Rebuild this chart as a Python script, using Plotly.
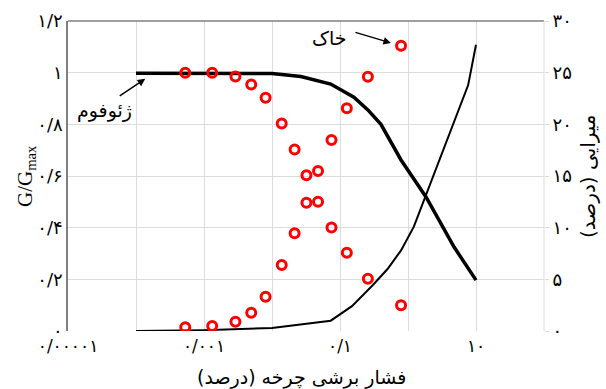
import plotly.graph_objects as go

# geofoam curves (strain in %)
foam_strain = [1e-4, 1e-3, 1e-2, 0.0266, 0.073, 0.16, 0.257, 0.40, 0.79, 1.84, 4.76, 10]
foam_g = [0.998, 0.998, 0.997, 0.985, 0.956, 0.905, 0.856, 0.800, 0.662, 0.519, 0.325, 0.197]

damp_strain = [1e-4, 1e-3, 1e-2, 0.073, 0.15, 0.30, 0.50, 0.79, 1.22, 1.84, 2.87, 5.0, 7.67, 10]
foam_damp = [0.0, 0.08, 0.3, 1.0, 2.4, 4.4, 6.0, 7.8, 10.1, 13.2, 16.5, 20.6, 23.8, 27.7]

# soil points
soil_strain = [5.3e-4, 1.32e-3, 2.9e-3, 4.95e-3, 8.05e-3, 0.0139, 0.0215, 0.0321,
               0.0475, 0.075, 0.126, 0.257, 0.79]
soil_g = [1.0, 1.0, 0.985, 0.954, 0.903, 0.803, 0.703, 0.603, 0.50, 0.401, 0.303, 0.202, 0.10]
soil_damp = [0.36, 0.48, 0.90, 1.77, 3.32, 6.39, 9.45, 12.42, 15.48, 18.48, 21.55, 24.61, 27.61]

x_ticks = [1e-5, 1e-4, 1e-3, 1e-2, 1e-1, 1, 10, 100]
x_text = ["۰/۰۰۰۰۱", "", "۰/۰۰۱", "", "۰/۱", "", "۱۰", ""]
g_ticks = [0, 0.2, 0.4, 0.6, 0.8, 1.0, 1.2]
g_text = ["۰", "۰/۲", "۰/۴", "۰/۶", "۰/۸", "۱", "۱/۲"]
d_ticks = [0, 5, 10, 15, 20, 25, 30]
d_text = ["۰", "۵", "۱۰", "۱۵", "۲۰", "۲۵", "۳۰"]

fa = "DejaVu Sans"
grid = "#dcdcdc"

fig = go.Figure()
fig.add_trace(go.Scatter(x=damp_strain, y=foam_damp, mode="lines", yaxis="y2",
                         line=dict(color="black", width=2)))
fig.add_trace(go.Scatter(x=foam_strain, y=foam_g, mode="lines",
                         line=dict(color="black", width=3.5)))
fig.add_trace(go.Scatter(x=soil_strain, y=soil_g, mode="markers",
                         marker=dict(symbol="circle-open", color="#ff0000", size=9,
                                     line=dict(width=3, color="#ff0000"))))
fig.add_trace(go.Scatter(x=soil_strain, y=soil_damp, mode="markers", yaxis="y2",
                         marker=dict(symbol="circle-open", color="#ff0000", size=9,
                                     line=dict(width=3, color="#ff0000"))))

fig.update_layout(
    width=606, height=389,
    margin=dict(l=68, r=62, t=21, b=58),
    plot_bgcolor="white", paper_bgcolor="white",
    showlegend=False,
    font=dict(family=fa, size=17, color="black"),
    xaxis=dict(type="log", range=[-5, 2], tickvals=x_ticks, ticktext=x_text,
               showgrid=True, gridcolor=grid, gridwidth=1, showline=False,
               zeroline=False, ticks="", tickfont=dict(size=17, family=fa),
               ticklabelstandoff=3, automargin=False),
    yaxis=dict(range=[0, 1.2], tickvals=g_ticks, ticktext=g_text,
               showgrid=True, gridcolor=grid, zeroline=False,
               showline=True, linecolor="#7f7f7f", linewidth=1.5, ticks="",
               tickfont=dict(size=18, family=fa), automargin=False),
    yaxis2=dict(range=[0, 30], tickvals=d_ticks, ticktext=d_text, overlaying="y",
                side="right", showgrid=False, zeroline=False, showline=False,
                ticks="outside", ticklen=4, tickcolor=grid,
                tickfont=dict(size=18, family=fa), automargin=False),
)

# top and right frame lines
fig.add_shape(type="line", xref="paper", yref="paper", x0=0, x1=1, y0=1, y1=1,
              line=dict(color="#7f7f7f", width=1.5))
fig.add_shape(type="line", xref="paper", yref="paper", x0=1, x1=1, y0=0, y1=1,
              line=dict(color=grid, width=1))

# axis titles
fig.add_annotation(xref="paper", yref="paper", x=0, y=0.5, xshift=-42,
                   xanchor="center", yanchor="middle",
                   text="G/G<sub>max</sub>", textangle=-90, showarrow=False,
                   font=dict(size=21, family="Liberation Serif"))
fig.add_annotation(xref="paper", yref="paper", x=1, y=0.5, xshift=44,
                   xanchor="center", yanchor="middle",
                   text="میرایی (درصد)", textangle=-90, showarrow=False,
                   font=dict(size=20, family=fa))
fig.add_annotation(xref="paper", yref="paper", x=0.49, y=0, yshift=-46,
                   xanchor="center", yanchor="middle",
                   text="فشار برشی چرخه (درصد)", showarrow=False,
                   font=dict(size=19, family=fa))

# curve labels
fig.add_annotation(x=-3.864, y=0.976, xref="x", yref="y", text="", showarrow=True,
                   ax=-27, ay=18, arrowhead=2, arrowsize=1, arrowwidth=1.5,
                   arrowcolor="black", standoff=0)
fig.add_annotation(x=-4.47, y=0.852, xref="x", yref="y", text="ژئوفوم", showarrow=False,
                   font=dict(size=19, family=fa))
fig.add_annotation(x=-0.251, y=1.115, xref="x", yref="y", text="", showarrow=True,
                   ax=-37, ay=-11, arrowhead=2, arrowsize=1, arrowwidth=1.5,
                   arrowcolor="black", standoff=0)
fig.add_annotation(x=-1.16, y=1.133, xref="x", yref="y", text="خاک", showarrow=False,
                   font=dict(size=19, family=fa))

# drop the default page margin so the figure fills the window exactly
fig.write_html("out.html", config={"displayModeBar": False},
               post_script="document.body.style.margin='0';document.body.style.overflow='hidden';")
